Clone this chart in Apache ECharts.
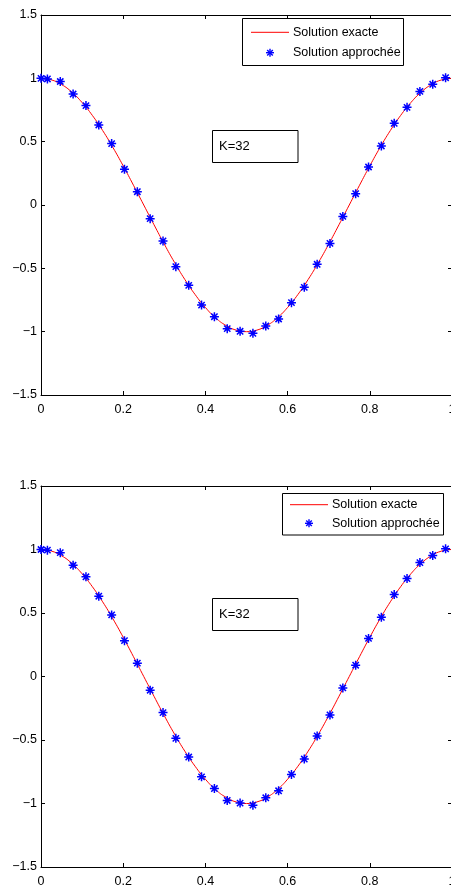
<!DOCTYPE html>
<html>
<head>
<meta charset="utf-8">
<script src="https://cdn.jsdelivr.net/npm/echarts@6/dist/echarts.min.js"></script>
<style>html,body{margin:0;padding:0;background:#fff;}#c{width:451px;height:888px;}</style>
</head>
<body>
<div id="c"></div>
<script>
// ---- data ----
const exactX = [0,0.025,0.05,0.075,0.1,0.125,0.15,0.175,0.2,0.225,0.25,0.275,0.3,0.325,0.35,0.375,0.4,0.425,0.45,0.475,0.5,0.525,0.55,0.575,0.6,0.625,0.65,0.675,0.7,0.725,0.75,0.775,0.8,0.825,0.85,0.875,0.9,0.925,0.95,0.975,1];
const exactY = [1,0.988,0.951,0.891,0.809,0.707,0.588,0.454,0.309,0.156,0,-0.156,-0.309,-0.454,-0.588,-0.707,-0.809,-0.891,-0.951,-0.988,-1,-0.988,-0.951,-0.891,-0.809,-0.707,-0.588,-0.454,-0.309,-0.156,0,0.156,0.309,0.454,0.588,0.707,0.809,0.891,0.951,0.988,1];
const approxX = [0,0.0156,0.0469,0.0781,0.1094,0.1406,0.1719,0.2031,0.2344,0.2656,0.2969,0.3281,0.3594,0.3906,0.4219,0.4531,0.4844,0.5156,0.5469,0.5781,0.6094,0.6406,0.6719,0.7031,0.7344,0.7656,0.7969,0.8281,0.8594,0.8906,0.9219,0.9531,0.9844];
const approxY = [1.0,0.995,0.975,0.876,0.785,0.632,0.485,0.282,0.105,-0.108,-0.284,-0.487,-0.634,-0.79,-0.882,-0.976,-0.997,-1.013,-0.955,-0.9,-0.771,-0.65,-0.468,-0.303,-0.09,0.089,0.30,0.466,0.645,0.771,0.897,0.953,1.005];
const xTicks = ['0','0.2','0.4','0.6','0.8','1'];
const yTicks = ['−1.5','−1','−0.5','0','0.5','1','1.5'];
const seriesNames = ['Solution exacte','Solution approchée'];
const annotation = 'K=32';

const FONT = '"Liberation Sans", Arial, Helvetica, sans-serif';
const STAR = 'path://M5,0L5,10M0,5L10,5M1.5,1.5L8.5,8.5M1.5,8.5L8.5,1.5';

const grids = [
  {left:41, top:15, width:411, height:380, outerBoundsMode:'none', containLabel:false},
  {left:41, top:486, width:411, height:381, outerBoundsMode:'none', containLabel:false}
];

function xAxes(gi){
  const base = {type:'value', gridIndex:gi, min:0, max:1, interval:0.2,
    axisLine:{show:true, onZero:false, lineStyle:{color:'#000', width:1}},
    axisTick:{show:true, inside:true, length:4, lineStyle:{color:'#000'}},
    splitLine:{show:false}};
  return [
    Object.assign({}, base, {position:'bottom',
      axisLabel:{show:true, margin:8, color:'#000', fontSize:12.5, fontFamily:FONT,
        hideOverlap:false, showMinLabel:true, showMaxLabel:true,
        formatter:v => xTicks[Math.round(v/0.2)]}}),
    Object.assign({}, base, {position:'top', axisLabel:{show:false}})
  ];
}
function yAxes(gi){
  const base = {type:'value', gridIndex:gi, min:-1.5, max:1.5, interval:0.5,
    axisLine:{show:true, onZero:false, lineStyle:{color:'#000', width:1}},
    axisTick:{show:true, inside:true, length:4, lineStyle:{color:'#000'}},
    splitLine:{show:false}};
  return [
    Object.assign({}, base, {position:'left',
      axisLabel:{show:true, margin:4, color:'#000', fontSize:12.5, fontFamily:FONT,
        showMinLabel:true, showMaxLabel:true,
        formatter:v => yTicks[Math.round((v+1.5)/0.5)]}}),
    Object.assign({}, base, {position:'right', axisLabel:{show:false}})
  ];
}

const exactData = exactX.map((x,i)=>[x, exactY[i]]);
const approxData = approxX.map((x,i)=>[x, approxY[i]]);

const series = [];
[0,1].forEach(gi=>{
  series.push({name:seriesNames[0], type:'line', xAxisIndex:gi*2, yAxisIndex:gi*2,
    data:exactData, smooth:true, symbol:'none', lineStyle:{color:'#ff0000', width:1}, z:2, animation:false});
  series.push({name:seriesNames[1], type:'scatter', xAxisIndex:gi*2, yAxisIndex:gi*2,
    data:approxData, symbol:STAR, symbolSize:9,
    itemStyle:{color:'rgba(0,0,0,0)', borderColor:'#0000ff', borderWidth:1.5, opacity:1}, z:3, animation:false});
});

function starLines(cx, cy, r){
  const d = r*0.7;
  return [
    {type:'line', shape:{x1:cx, y1:cy-r, x2:cx, y2:cy+r}, style:{stroke:'#0000ff', lineWidth:1.4}},
    {type:'line', shape:{x1:cx-r, y1:cy, x2:cx+r, y2:cy}, style:{stroke:'#0000ff', lineWidth:1.4}},
    {type:'line', shape:{x1:cx-d, y1:cy-d, x2:cx+d, y2:cy+d}, style:{stroke:'#0000ff', lineWidth:1.4}},
    {type:'line', shape:{x1:cx-d, y1:cy+d, x2:cx+d, y2:cy-d}, style:{stroke:'#0000ff', lineWidth:1.4}}
  ];
}

function legend(box, lineX1, lineX2, row1, row2, starX, textX){
  const els = [
    {type:'rect', shape:{x:box[0], y:box[1], width:box[2], height:box[3]}, style:{fill:'#fff', stroke:'#000', lineWidth:1}, z:100},
    {type:'line', shape:{x1:lineX1, y1:row1, x2:lineX2, y2:row1}, style:{stroke:'#ff0000', lineWidth:1}, z:101},
    {type:'text', x:textX, y:row1, style:{text:seriesNames[0], fill:'#000', font:'12.5px '+FONT, verticalAlign:'middle'}, z:101},
    {type:'text', x:textX, y:row2, style:{text:seriesNames[1], fill:'#000', font:'12.5px '+FONT, verticalAlign:'middle'}, z:101}
  ];
  starLines(starX, row2, 4).forEach(e=>{e.z=101; els.push(e);});
  return els;
}
function kbox(x,y,w,h){
  return [
    {type:'rect', shape:{x:x, y:y, width:w, height:h}, style:{fill:'#fff', stroke:'#000', lineWidth:1}, z:100},
    {type:'text', x:x+6.5, y:y+h/2, style:{text:annotation, fill:'#000', font:'13px '+FONT, verticalAlign:'middle'}, z:101}
  ];
}

const graphic = [].concat(
  legend([242.5,18.5,161,47], 251, 289, 32.3, 52.7, 270, 293),
  legend([282.5,493.5,161,41.5], 290, 328, 504.7, 523.3, 309, 332),
  kbox(212.5,130.5,85.5,32),
  kbox(212.5,598.5,85.5,32)
);

const chart = echarts.init(document.getElementById('c'), null, {renderer:'canvas'});
chart.setOption({
  animation:false,
  backgroundColor:'#fff',
  grid: grids,
  xAxis: xAxes(0).concat(xAxes(1)),
  yAxis: yAxes(0).concat(yAxes(1)),
  series: series,
  graphic: graphic
});
</script>
</body>
</html>
